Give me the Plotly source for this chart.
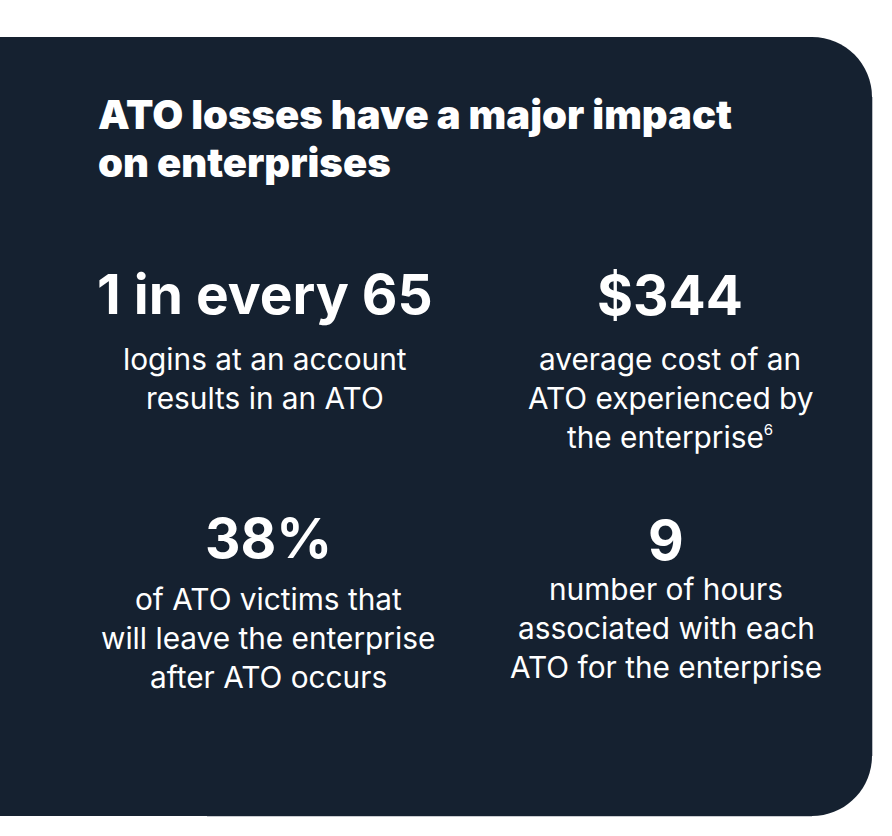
import plotly.graph_objects as go

W, H = 892, 836
BG = "#152130"

title_lines = ["ATO losses have a major impact", "on enterprises"]
stat_values = ["1 in every 65", "$344", "38%", "9"]
stat_descriptions = [
    ["logins at an account", "results in an ATO"],
    ["average cost of an", "ATO experienced by",
     "the enterprise<sup><span style='font-size:15px'>6</span></sup>"],
    ["of ATO victims that", "will leave the enterprise", "after ATO occurs"],
    ["number of hours", "associated with each", "ATO for the enterprise"],
]

# layout (pixel coordinates)
stat_centers_x = [265, 670, 268, 666]
stat_baselines = [314, 315, 558, 560]
desc_first_baselines = [370, 370, 610, 600]
desc_step = 38.8

fig = go.Figure()
fig.update_xaxes(range=[0, W], visible=False, fixedrange=True)
fig.update_yaxes(range=[H, 0], visible=False, fixedrange=True)

# panel with rounded right corners
r = 60
k = 0.5523 * r
x0, x1, y0, y1 = -5, 872, 37, 816
path = (f"M {x0} {y0} L {x1-r} {y0} C {x1-r+k} {y0} {x1} {y0+r-k} {x1} {y0+r} "
        f"L {x1} {y1-r} C {x1} {y1-r+k} {x1-r+k} {y1} {x1-r} {y1} L {x0} {y1} Z")
fig.add_shape(type="path", path=path, fillcolor=BG, line=dict(width=0), layer="below")
# faint edge lines
fig.add_shape(type="line", x0=207, x1=x1 - r, y0=y1 + 0.5, y1=y1 + 0.5,
              line=dict(color="#c8cbd0", width=1))
fig.add_shape(type="line", x0=x1 + 0.5, x1=x1 + 0.5, y0=y0 + r, y1=y1 - r,
              line=dict(color="#b9bdc3", width=1))

def add_line(text, x, baseline, size, weight, anchor="center"):
    yc = baseline - size * 0.36
    fig.add_annotation(x=x, y=yc, xref="x", yref="y", text=text, showarrow=False,
                       xanchor=anchor, yanchor="middle", borderpad=0,
                       font=dict(family="Inter", size=size, color="white", weight=weight))

title_baselines = [129, 177]
for t, b in zip(title_lines, title_baselines):
    add_line(t, 97, b, 40, 900, anchor="left")

for i in range(4):
    add_line(stat_values[i], stat_centers_x[i], stat_baselines[i], 55, 700)
    for j, d in enumerate(stat_descriptions[i]):
        add_line(d, stat_centers_x[i], desc_first_baselines[i] + j * desc_step, 29.8, 400)

fig.update_layout(width=W, height=H, margin=dict(l=0, r=0, t=0, b=0),
                  paper_bgcolor="white", plot_bgcolor="white", showlegend=False)
fig.write_html("out.html", config={"displayModeBar": False, "staticPlot": True},
               post_script="document.body.style.margin='0';document.body.style.overflow='hidden';")
